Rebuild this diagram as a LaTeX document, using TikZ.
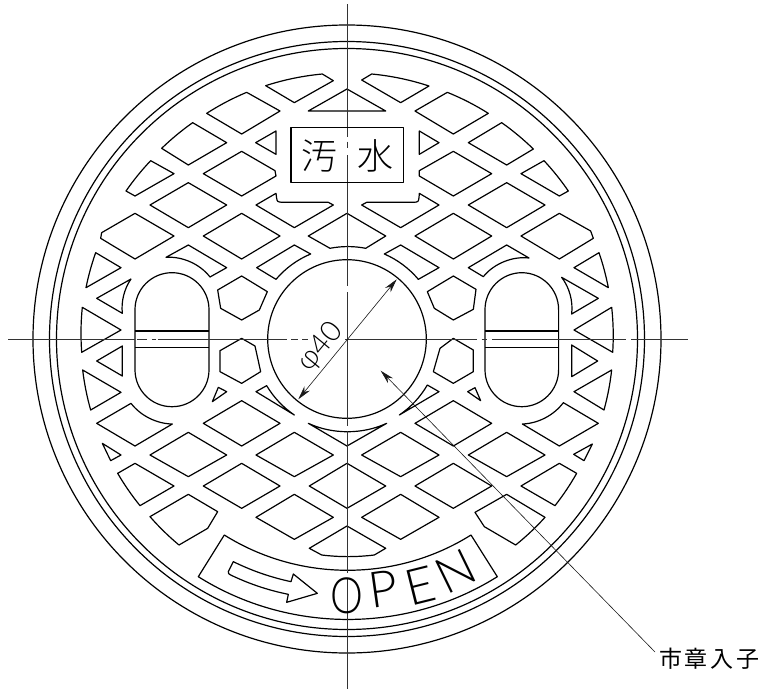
\documentclass[tikz,border=0pt]{standalone}
\usepackage{fontspec}
\usetikzlibrary{arrows.meta}
\newfontfamily\cjk[UprightFont=* Light]{Noto Sans CJK JP}
\newfontfamily\cjkwide[LetterSpace=12]{Noto Sans CJK JP}
\newfontfamily\thinlat[UprightFont=* Light]{Lato}
\setmainfont{Carlito}
\tikzset{
  pat/.style={line width=1.2pt,line join=round},
  axisline/.style={line width=.7pt,color=black!80},
  dimline/.style={line width=.6pt,color=black!90},
  zv/.style 2 args={shift={(#1,#2)},x=.33333pt,y=-.33333pt},
  cw/.style={bend left=#1,looseness=.87},
  ccw/.style={bend right=#1,looseness=.87},
  lett/.style={inner sep=0pt,font=\thinlat\fontsize{50}{50}\selectfont}
}
\begin{document}
\begin{tikzpicture}[x=1pt,y=-1pt]
\useasboundingbox (0,0) rectangle (764,691);
\coordinate (c) at (347,339);
% rings
\draw[pat] (c) circle[radius=314pt];
\draw[pat] (c) circle[radius=297.5pt];
\draw[pat] (c) circle[radius=290.5pt];
\draw[pat] (c) circle[radius=79.3pt];
% slots
\draw[pat,rounded corners=36.9pt] (135,272.7) rectangle (209,406.7);
\draw[pat,rounded corners=36.9pt] (485,272.7) rectangle (558.6,406.7);
\draw[pat] (135,331) -- (209,331) (135,347.3) -- (209,347.3);
\draw[pat] (485,331) -- (558.6,331) (485,347.3) -- (558.6,347.3);
% shapes on the axis
\draw[pat] (308.3,111) -- (347,89) -- (385.7,111) -- cycle;
\draw[pat] (365.7,248.3) to[ccw=11] (330,248.3) -- (308.3,236) -- (347,213.3) -- (385.7,236) -- cycle;
\draw[pat] (309.3,486) -- (347,463.3) -- (385.7,486) -- (347,508.3) -- cycle;
\draw[pat] (321.7,555) to[ccw=6.9] (374.3,555) -- (385.7,548.3) -- (347,526) -- (309.3,548.3) -- cycle;
\draw[pat] (308.3,423.3) to[ccw=25] (386.7,423.3) -- (347,446) -- cycle;
\draw[pat] (81.7,352.3) to[cw=4.9] (82.3,307.3) -- (121,330) -- cycle;
\draw[pat] (611.7,307.3) to[cw=4.9] (612.7,352.3) -- (574,330) -- cycle;
% top left
\begin{scope}[zv={60}{30}]
\draw[pat] (617,167) to[cw=6.2] (787,132) -- (820,152) -- (703,218) -- cycle;
\draw[pat] (440,250) to[cw=4.9] (560,187) -- (660,243) -- (545,312) -- cycle;
\draw[pat] (305,355) to[cw=4.3] (398,278) -- (500,338) -- (385,405) -- cycle;
\draw[pat] (587,338) -- (648,303) -- (648,373) -- cycle;
\draw[pat] (430,431) -- (545,364) -- (645,422) -- (648,438) -- (545,498) -- cycle;
\draw[pat] (198,483) to[cw=4.2] (272,392) -- (342,431) -- (225,498) -- cycle;
\draw[pat] (270,525) -- (385,458) -- (500,525) -- (385,593) -- cycle;
\draw[pat] (588,525) -- (648,490) -- (650,505) .. controls (652,515) .. (665,517) -- (805,517) -- (820,525) -- (703,593) -- cycle;
\draw[pat] (125,608) -- (225,550) -- (342,618) -- (225,687) -- (122,625) -- cycle;
\draw[pat] (430,618) -- (545,550) -- (660,618) -- (545,687) -- cycle;
\draw[pat] (318,682) to[cw=28.2] (450,741) -- (500,713) -- (385,645) -- cycle;
\draw[pat] (752,672) to[ccw=13.4] (648,748) -- (590,713) -- (703,645) -- cycle;
\draw[pat] (78,773) to[cw=3.9] (107,668) -- (183,713) -- cycle;
\draw[pat] (213,747) to[ccw=20.3] (187,850) -- (110,805) -- cycle;
\draw[pat] (473,780) -- (545,738) -- (622,785) -- (598,840) -- (545,870) -- (482,835) -- cycle;
\end{scope}
% top right
\begin{scope}[zv={345}{30}]
\draw[pat] (80,132) to[cw=6.3] (252,168) -- (167,218) -- (50,150) -- cycle;
\draw[pat] (307,187) to[cw=5] (430,250) -- (325,312) -- (210,243) -- cycle;
\draw[pat] (470,278) to[cw=4.4] (565,357) -- (485,405) -- (370,338) -- cycle;
\draw[pat] (223,303) -- (282,338) -- (223,373) -- cycle;
\draw[pat] (223,422) -- (325,364) -- (440,431) -- (325,498) -- (223,438) -- cycle;
\draw[pat] (597,392) to[cw=4.2] (670,483) -- (643,498) -- (528,431) -- cycle;
\draw[pat] (370,525) -- (485,458) -- (600,525) -- (485,593) -- cycle;
\draw[pat] (50,525) -- (65,517) -- (205,517) .. controls (220,516) .. (222,503) -- (223,490) -- (282,525) -- (167,593) -- cycle;
\draw[pat] (210,618) -- (325,550) -- (440,618) -- (325,687) -- cycle;
\draw[pat] (528,618) -- (643,550) -- (737,603) -- (745,625) -- (643,687) -- cycle;
\draw[pat] (118,672) to[cw=13.2] (220,748) -- (282,713) -- (167,645) -- cycle;
\draw[pat] (552,684) to[ccw=28.9] (415,740) -- (370,713) -- (485,645) -- cycle;
\draw[pat] (762,668) to[cw=3.9] (790,773) -- (687,713) -- cycle;
\draw[pat] (650,742) to[cw=21.9] (680,852) -- (760,805) -- cycle;
\draw[pat] (247,785) -- (325,738) -- (393,778) -- (385,838) -- (325,870) -- (268,835) -- cycle;
\end{scope}
% bottom left
\begin{scope}[zv={60}{320}]
\draw[pat] (480,92) -- (545,55) -- (585,78) -- (602,155) -- (545,190) -- (480,155) -- cycle;
\draw[pat] (110,123) -- (187,78) -- (187,168) -- cycle;
\draw[pat] (92,270) to[cw=4.4] (68,150) -- (183,217) -- cycle;
\draw[pat] (457,245) -- (475,202) -- (500,215) -- cycle;
\draw[pat] (620,197) to[ccw=12.4] (703,285) -- (588,215) -- cycle;
\draw[pat] (213,250) to[ccw=25.7] (337,312) -- (225,378) -- (110,310) -- cycle;
\draw[pat] (430,310) -- (545,242) -- (660,310) -- (545,378) -- cycle;
\draw[pat] (127,370) -- (183,405) -- (152,422) -- cycle;
\draw[pat] (270,405) -- (385,337) -- (500,405) -- (385,470) -- cycle;
\draw[pat] (588,405) -- (703,337) -- (820,405) -- (703,470) -- cycle;
\draw[pat] (240,557) to[cw=4.2] (173,460) -- (225,430) -- (342,498) -- cycle;
\draw[pat] (430,498) -- (545,430) -- (660,498) -- (545,565) -- cycle;
\draw[pat] (357,675) to[cw=4.4] (270,590) -- (385,523) -- (473,575) -- (443,625) -- cycle;
\draw[pat] (588,592) -- (703,523) -- (820,592) -- (703,658) -- cycle;
\end{scope}
% bottom right
\begin{scope}[zv={345}{320}]
\draw[pat] (285,85) -- (325,55) -- (385,90) -- (385,155) -- (325,190) -- (265,155) -- cycle;
\draw[pat] (680,75) -- (758,123) -- (680,170) -- cycle;
\draw[pat] (800,150) to[cw=4.4] (777,270) -- (687,215) -- cycle;
\draw[pat] (368,215) -- (390,203) -- (407,242) -- cycle;
\draw[pat] (163,285) to[ccw=12.8] (247,195) -- (282,215) -- cycle;
\draw[pat] (210,310) -- (325,242) -- (440,310) -- (325,378) -- cycle;
\draw[pat] (532,312) to[ccw=25.7] (655,248) -- (760,310) -- (643,378) -- cycle;
\draw[pat] (370,405) -- (485,337) -- (600,405) -- (485,470) -- cycle;
\draw[pat] (50,405) -- (167,337) -- (282,405) -- (167,470) -- cycle;
\draw[pat] (686,403) -- (742,372) -- (717,422) -- cycle;
\draw[pat] (210,498) -- (325,430) -- (440,498) -- (325,565) -- cycle;
\draw[pat] (695,460) to[cw=4.2] (630,557) -- (528,498) -- (643,430) -- cycle;
\draw[pat] (50,592) -- (167,523) -- (282,592) -- (167,658) -- cycle;
\draw[pat] (600,592) to[cw=4.4] (512,675) -- (418,620) -- (390,577) -- (485,523) -- cycle;
\end{scope}
% OPEN panel
\draw[pat] (224.3,535) to[bend right=32.1,looseness=.92] (471,535) -- (497.3,576.7) to[bend left=32.1,looseness=.92] (198.3,576.7) -- cycle;
% arrow on the panel
\begin{scope}[zv={190}{530}]
\draw[pat,line join=round] (130,95) to[ccw=7] (303,155) -- (310,132) -- (382,190) -- (290,217) -- (295,193) to[cw=7] (122,135) .. controls (115,131) .. (115,125) -- cycle;
\end{scope}
% centre lines
\draw[axisline] (347,4) -- (347,136.7) (347,141.7) -- (347,148) (347,155) -- (347,286) (347,292) -- (347,426) (347,431) -- (347,573) (347,578) -- (347,689);
\draw[axisline] (8,339) -- (135,339) (137,339) -- (147,339) (152,339) -- (156,339) (158,339) -- (287,339) (291,339) -- (298,339) (302,339) -- (308,339) (345,339) -- (477,339) (481.7,339) -- (487,339) (492,339) -- (625.7,339) (631,339) -- (688,339);
% dimension and leader
\coordinate (dimA) at (396.7,279.3);
\coordinate (dimB) at (298.3,399.3);
\draw[dimline,{Stealth[length=14pt,width=7pt]}-{Stealth[length=14pt,width=7pt]}] (dimB) -- (dimA);
\coordinate (leadA) at (380.7,370.7);
\coordinate (leadB) at (655,652);
\draw[dimline,{Stealth[length=14pt,width=7pt]}-] (leadA) -- (leadB);
% texts
\node[inner sep=0pt,rotate=50.6,font=\thinlat\fontsize{29}{29}\selectfont] (dimtext) at (321,347) {φ40};
\draw[pat] (291,127.3) rectangle (403.3,182.3);
\node[inner sep=0pt,font=\cjk\fontsize{36}{36}\selectfont] (wa) at (319,156) {汚};
\node[inner sep=0pt,font=\cjk\fontsize{36}{36}\selectfont] (wb) at (375.7,156) {水};
\node[lett,xscale=.83] (o) at (347.3,595.7) {O};
\node[lett,rotate=8] (p) at (383,588.5) {P};
\node[lett,rotate=14] (e) at (420.7,585.7) {E};
\node[lett,rotate=26] (n) at (455.7,571.7) {N};
\node[inner sep=0pt,anchor=west,font=\cjkwide\fontsize{23}{23}\selectfont] (city) at (659,659) {市章入子};
\end{tikzpicture}
\end{document}
